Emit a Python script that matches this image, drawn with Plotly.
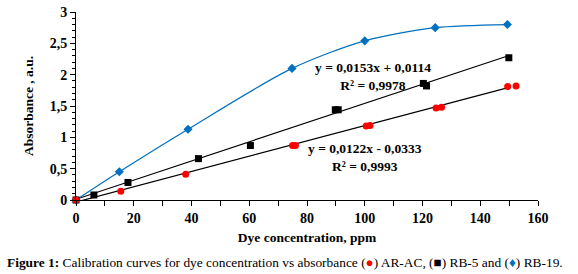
import numpy as np
import plotly.graph_objects as go

# AR-AC (red circles)
ar_x = [0, 15.5, 38, 75, 76, 100.5, 101.8, 124.7, 126.6, 149.5, 152.4]
ar_y = [0, 0.14, 0.41, 0.87, 0.87, 1.18, 1.19, 1.47, 1.48, 1.81, 1.82]
# RB-5 (black squares)
rb5_x = [0, 6.2, 18, 42.4, 60.4, 89.8, 90.8, 120.3, 121.4, 149.9]
rb5_y = [0, 0.08, 0.28, 0.66, 0.87, 1.44, 1.44, 1.86, 1.82, 2.27]
# RB-19 (blue diamonds)
rb19_x = [0, 15, 38.8, 74.8, 100, 124.4, 149.4]
rb19_y = [0, 0.45, 1.13, 2.10, 2.54, 2.75, 2.80]

# trendline coefficients (as shown on the chart)
rb5_slope, rb5_icpt = 0.0153, 0.0114
ar_slope, ar_icpt = 0.0122, -0.0333
trend_x = [0, 150]

x_ticks = [0, 20, 40, 60, 80, 100, 120, 140, 160]
y_ticks = [0, 0.5, 1, 1.5, 2, 2.5, 3]
y_ticktext = ["0", "0,5", "1", "1,5", "2", "2,5", "3"]

FONT = "Liberation Serif, Times New Roman, serif"
BLUE = "#0070C0"

W, H = 578, 274
L, R, T, B = 76, 40, 12, 74
PW, PH = W - L - R, H - T - B

fig = go.Figure()
tx = np.array(trend_x, dtype=float)
fig.add_trace(go.Scatter(x=tx, y=rb5_slope * tx + rb5_icpt, mode="lines",
                         line=dict(color="black", width=1.2), hoverinfo="skip"))
fig.add_trace(go.Scatter(x=tx, y=ar_slope * tx + ar_icpt, mode="lines",
                         line=dict(color="black", width=1.2), hoverinfo="skip"))
fig.add_trace(go.Scatter(x=rb19_x, y=rb19_y, mode="lines+markers",
                         line=dict(color=BLUE, width=1.2, shape="spline", smoothing=0.8),
                         marker=dict(symbol="diamond", size=7, color=BLUE),
                         cliponaxis=False))
fig.add_trace(go.Scatter(x=rb5_x, y=rb5_y, mode="markers",
                         marker=dict(symbol="square", size=7, color="black"),
                         cliponaxis=False))
fig.add_trace(go.Scatter(x=ar_x, y=ar_y, mode="markers",
                         marker=dict(symbol="circle", size=7, color="#FF0000"),
                         cliponaxis=False))

fig.update_layout(
    width=W, height=H,
    margin=dict(l=L, r=R, t=T, b=B),
    paper_bgcolor="white", plot_bgcolor="white",
    showlegend=False,
    font=dict(family=FONT, color="black"),
    xaxis=dict(range=[0, 160], tickvals=x_ticks, showgrid=False, zeroline=False,
               automargin=False,
               showline=True, linecolor="black", linewidth=1,
               ticks="outside", ticklen=5, tickcolor="black",
               minor=dict(dtick=10, ticks="outside", ticklen=5, tickcolor="black"),
               tickfont=dict(family=FONT, size=14, color="black", weight="bold"),
               title=dict(text="<b>Dye concentration, ppm</b>",
                          font=dict(family=FONT, size=13.5), standoff=7)),
    yaxis=dict(range=[0, 3], tickvals=y_ticks, ticktext=y_ticktext, showgrid=False,
               automargin=False,
               zeroline=False, showline=True, linecolor="black", linewidth=1,
               ticks="outside", ticklen=5, tickcolor="black",
               minor=dict(dtick=0.1, ticks="outside", ticklen=3, tickcolor="black"),
               tickfont=dict(family=FONT, size=14, color="black", weight="bold"),
               title=dict(text="<b>Absorbance , a.u.</b>",
                          font=dict(family=FONT, size=13.5), standoff=12)),
)

ann_font = dict(family=FONT, size=13.5, color="black")
fig.add_annotation(x=102.8, y=1.97, xref="x", yref="y", showarrow=False, align="center",
                   text="<b>y = 0,0153x + 0,0114<br>R² = 0,9978</b>", font=ann_font)
fig.add_annotation(x=100.2, y=0.68, xref="x", yref="y", showarrow=False, align="center",
                   text="<b>y = 0,0122x - 0,0333<br>R² = 0,9993</b>", font=ann_font)

fig.add_annotation(x=(5 - L) / PW, y=(T + PH - 262) / PH, xref="paper", yref="paper",
                   xanchor="left", yanchor="middle", showarrow=False,
                   text=("<b>Figure 1:</b> Calibration curves for dye concentration vs absorbance "
                         "(<span style='color:#FF0000'>●</span>) AR-AC, (■) RB-5 and "
                         "(<span style='color:" + BLUE + "'>♦</span>) RB-19."),
                   font=dict(family=FONT, size=13.4, color="black"))

fig.write_html("out.html", post_script="document.body.style.margin='0';",
               config={"displayModeBar": False})
